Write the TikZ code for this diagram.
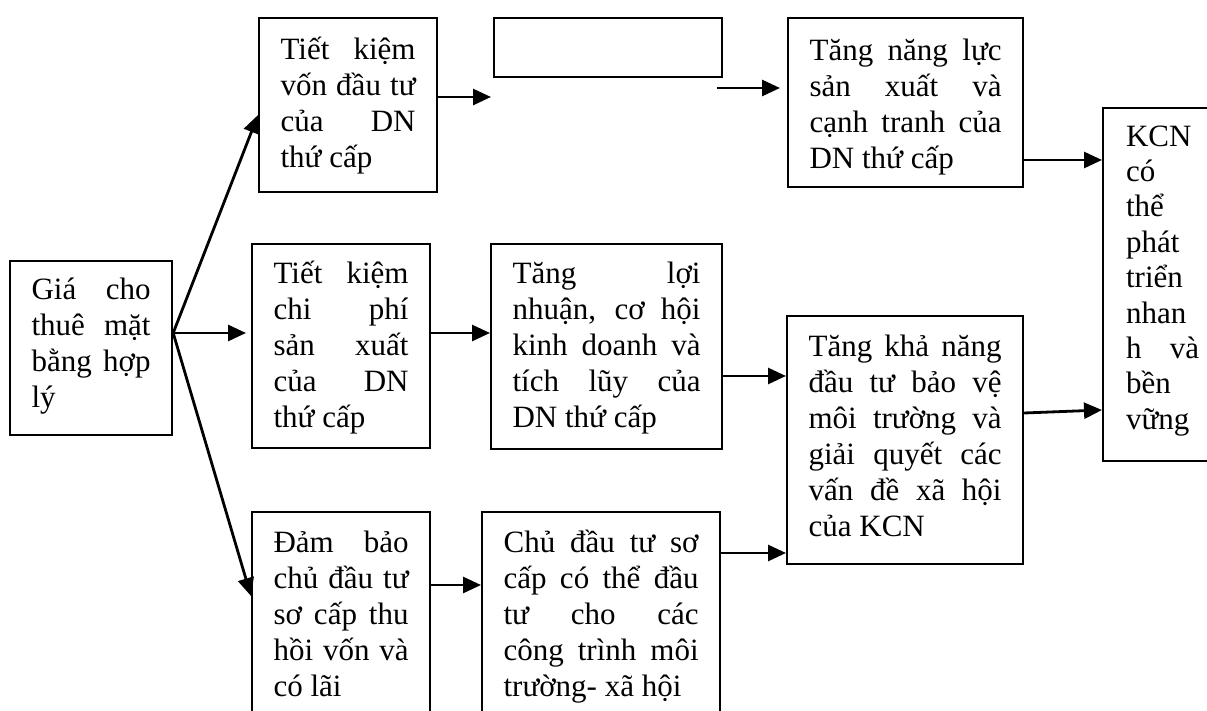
\documentclass[tikz,border=0pt]{standalone}
\usepackage{fontspec}
\setmainfont{Liberation Serif}
\usetikzlibrary{arrows.meta,calc}
\tolerance=10000
\hbadness=10000
\hyphenpenalty=10000

\begin{document}
\begin{tikzpicture}[x=0.5pt, y=-0.5pt, font=\fontsize{15.5}{18}\selectfont,
  box/.style={draw, line width=1.1pt, anchor=north west, align=justify,
    inner xsep=10.75pt, inner ysep=0pt, text height=20pt},
  blank/.style={draw, line width=1.1pt, anchor=north west, inner sep=0pt},
  flow/.style={-{Triangle[length=9pt, width=8pt]}, line width=1.4pt},
]
\useasboundingbox (0,0) rectangle (1207,711);
\clip (0,0) rectangle (1207,711);

% ---------------------------------------------------------------- source
\node[box, text width=59.5pt, text height=19pt, text depth=68pt] (gia) at (9,260)
  {Giá cho\linebreak thuê mặt\linebreak bằng hợp\linebreak lý};

% ---------------------------------------------------------------- top row
\node[box, text width=67.5pt, text height=20.5pt, text depth=66.5pt] (von) at (258,17)
  {Tiết kiệm\linebreak vốn đầu tư\linebreak của DN\linebreak thứ cấp};
\node[blank, minimum width=114pt, minimum height=29.5pt] (trong) at (493,17) {};
\node[box, text width=96pt, text height=21pt, text depth=63.5pt] (nangluc) at (787,17)
  {Tăng năng lực\linebreak sản xuất và\linebreak cạnh tranh của\linebreak DN thứ cấp};

% ---------------------------------------------------------------- middle row
\node[box, text width=67.5pt, text height=19.5pt, text depth=82.5pt] (chiphi) at (251,243)
  {Tiết kiệm\linebreak chi phí\linebreak sản xuất\linebreak của DN\linebreak thứ cấp};
\node[box, text width=94pt, text height=19.5pt, text depth=83pt] (loinhuan) at (490,243)
  {Tăng lợi\linebreak nhuận, cơ hội\linebreak kinh doanh và\linebreak tích lũy của\linebreak DN thứ cấp};
\node[box, text width=96.5pt, text height=20pt, text depth=104pt] (moitruong) at (786,315)
  {Tăng khả năng\linebreak đầu tư bảo vệ\linebreak môi trường và\linebreak giải quyết các\linebreak vấn đề xã hội\linebreak của KCN};

% ---------------------------------------------------------------- bottom row
\node[box, text width=67.5pt, text height=20pt, text depth=94.5pt] (thuhoi) at (251,511)
  {Đảm bảo\linebreak chủ đầu tư\linebreak sơ cấp thu\linebreak hồi vốn và\linebreak có lãi};
\node[box, text width=97.5pt, text height=20pt, text depth=94.5pt] (socap) at (481,511)
  {Chủ đầu tư sơ\linebreak cấp có thể đầu\linebreak tư cho các\linebreak công trình môi\linebreak trường- xã hội};

% ---------------------------------------------------------------- goal
\node[box, font=\fontsize{15.5}{17.7}\selectfont, text width=36.5pt, inner xsep=11.5pt,
  text height=19pt, text depth=157.5pt] (kcn) at (1102,107)
  {KCN\linebreak có\linebreak thể\linebreak phát\linebreak triển\linebreak nhan\linebreak h và\linebreak bền\linebreak vững};

% ---------------------------------------------------------------- arrows
\coordinate (fork) at (gia.east |- 0,333);
\coordinate (gapL) at (491,97);
\coordinate (gapR) at (717,88);
\draw[flow] (fork) -- ($(von.north west)+(0,98)$);
\draw[flow, shorten >=2.5pt] (fork) -- (chiphi.west |- fork);
\draw[flow] (fork) -- ($(thuhoi.north west)+(0,85)$);
\draw[flow] (von.east |- gapL) -- (gapL);
\draw[flow, shorten >=3.5pt] (gapR) -- (nangluc.west |- gapR);
\draw[flow] (nangluc.east |- 0,160) -- (kcn.west |- 0,160);
\draw[flow] (chiphi.east |- fork) -- (loinhuan.west |- fork);
\draw[flow] (loinhuan.east |- 0,376) -- (moitruong.west |- 0,376);
\draw[flow] (thuhoi.east |- 0,585) -- (socap.west |- 0,585);
\draw[flow] (socap.east |- 0,553) -- (moitruong.west |- 0,553);
\draw[flow] (moitruong.east |- 0,413) -- (kcn.west |- 0,410);
\end{tikzpicture}
\end{document}
